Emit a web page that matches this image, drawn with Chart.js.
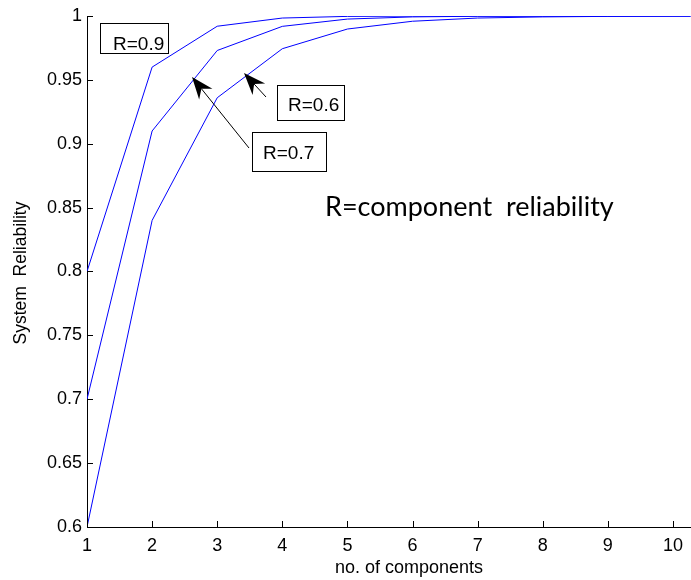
<!DOCTYPE html>
<html>
<head>
<meta charset="utf-8">
<script src="https://cdn.jsdelivr.net/npm/chart.js@4/dist/chart.umd.min.js"></script>
<style>
html,body{margin:0;padding:0;background:#fff;}
#wrap{width:691px;height:580px;position:relative;}
</style>
</head>
<body>
<div id="wrap"><canvas id="c" width="691" height="580"></canvas></div>
<script>
// ---- data ----
const components = [1, 2, 3, 4, 5, 6, 7, 8, 9, 10, 11];
const seriesR09 = [0.80, 0.96, 0.992, 0.9984, 0.9997, 0.9999, 1.0, 1.0, 1.0, 1.0, 1.0];
const seriesR07 = [0.70, 0.91, 0.973, 0.9919, 0.9976, 0.9993, 0.9998, 0.9999, 1.0, 1.0, 1.0];
const seriesR06 = [0.60, 0.84, 0.936, 0.9744, 0.9898, 0.9959, 0.9984, 0.9993, 0.9997, 0.9999, 1.0];
const xTicks = [1, 2, 3, 4, 5, 6, 7, 8, 9, 10];
const yTicks = [0.6, 0.65, 0.7, 0.75, 0.8, 0.85, 0.9, 0.95, 1];
const seriesLabels = ['R=0.9', 'R=0.7', 'R=0.6'];
const xTitle = 'no. of components';
const yTitle = 'System  Reliability';
const noteText = 'R=component  reliability';

const FONT = '"Liberation Sans", Arial, sans-serif';

function pts(vals){ return components.map((x,i)=>({x:x, y:vals[i]})); }

const annot = {
  id: 'annot',
  afterDraw(chart){
    const ctx = chart.ctx;
    const xs = chart.scales.x, ys = chart.scales.y;
    const ca = chart.chartArea;
    ctx.save();
    // inward ticks
    ctx.strokeStyle = '#000';
    ctx.lineWidth = 1;
    ctx.beginPath();
    yTicks.forEach(v=>{
      const py = Math.round(ys.getPixelForValue(v)) + 0.5;
      ctx.moveTo(ca.left, py); ctx.lineTo(ca.left + 6, py);
    });
    xTicks.forEach(v=>{
      const px = Math.round(xs.getPixelForValue(v)) + 0.5;
      ctx.moveTo(px, ca.bottom); ctx.lineTo(px, ca.bottom - 6);
    });
    ctx.stroke();

    // label boxes
    function box(x0,y0,x1,y1,text,tx,ty){
      ctx.fillStyle = '#fff';
      ctx.fillRect(x0,y0,x1-x0,y1-y0);
      ctx.strokeStyle = '#000';
      ctx.lineWidth = 1;
      ctx.strokeRect(x0+0.5,y0+0.5,x1-x0,y1-y0);
      ctx.fillStyle = '#000';
      ctx.font = '19px ' + FONT;
      ctx.textAlign = 'left';
      ctx.textBaseline = 'alphabetic';
      ctx.fillText(text, tx, ty);
    }
    box(100,23,168,53, seriesLabels[0], 113, 50);
    box(277,85,344,120, seriesLabels[2], 288, 111);
    box(252,132,326,171, seriesLabels[1], 263, 159);

    // arrows
    function arrow(tipX,tipY,tailX,tailY){
      const dx = tailX-tipX, dy = tailY-tipY;
      const L = Math.hypot(dx,dy);
      const ux = dx/L, uy = dy/L;
      const px = -uy, py = ux;
      const hl = 22, hw = 8.5, notch = 15;
      ctx.strokeStyle = '#000';
      ctx.lineWidth = 1;
      ctx.beginPath();
      ctx.moveTo(tipX+ux*notch, tipY+uy*notch);
      ctx.lineTo(tailX, tailY);
      ctx.stroke();
      ctx.fillStyle = '#000';
      ctx.beginPath();
      ctx.moveTo(tipX, tipY);
      ctx.lineTo(tipX+ux*hl+px*hw, tipY+uy*hl+py*hw);
      ctx.lineTo(tipX+ux*notch, tipY+uy*notch);
      ctx.lineTo(tipX+ux*hl-px*hw, tipY+uy*hl-py*hw);
      ctx.closePath();
      ctx.fill();
    }
    arrow(192,77,249,148);
    arrow(244,73,266,97);

    // note text
    ctx.fillStyle = '#000';
    ctx.font = '27px Lato, "Open Sans", sans-serif';
    ctx.textAlign = 'left';
    ctx.textBaseline = 'alphabetic';
    ctx.fillText(noteText, 325, 216);

    // axis titles
    ctx.font = '18px ' + FONT;
    ctx.textAlign = 'center';
    ctx.textBaseline = 'middle';
    ctx.fillText(xTitle, 409, 568);
    ctx.font = '17.5px ' + FONT;
    ctx.translate(21, 273);
    ctx.rotate(-Math.PI/2);
    ctx.fillText(yTitle, 0, 0);
    ctx.restore();
  }
};

const mk = (label, vals) => ({
  label, data: pts(vals), borderColor: '#0000ff', backgroundColor: '#0000ff',
  borderWidth: 1, pointRadius: 0, fill: false, tension: 0
});

new Chart(document.getElementById('c'), {
  type: 'line',
  data: { datasets: [ mk(seriesLabels[0], seriesR09), mk(seriesLabels[1], seriesR07), mk(seriesLabels[2], seriesR06) ] },
  options: {
    responsive: false,
    animation: false,
    devicePixelRatio: 1,
    layout: { padding: { top: 16, right: 0, left: 0, bottom: 0 } },
    plugins: { legend: { display: false }, tooltip: { enabled: false } },
    scales: {
      x: {
        type: 'linear', min: 1, max: 10.27,
        afterFit(s){ s.height = 53; },
        afterBuildTicks(s){ s.ticks = xTicks.map(v=>({value:v})); },
        grid: { drawOnChartArea: false, drawTicks: false },
        border: { display: true, color: '#000', width: 1 },
        ticks: { padding: 8, color: '#000', font: { family: FONT, size: 18 }, callback: v => String(v), maxRotation: 0, autoSkip: false }
      },
      y: {
        type: 'linear', min: 0.6, max: 1,
        afterFit(s){ s.width = 87; },
        afterBuildTicks(s){ s.ticks = yTicks.map(v=>({value:v})); },
        grid: { drawOnChartArea: false, drawTicks: false },
        border: { display: true, color: '#000', width: 1 },
        ticks: { padding: 5, color: '#000', font: { family: FONT, size: 18 }, callback: v => String(+Number(v).toFixed(2)), autoSkip: false }
      }
    }
  },
  plugins: [annot]
});
</script>
</body>
</html>
